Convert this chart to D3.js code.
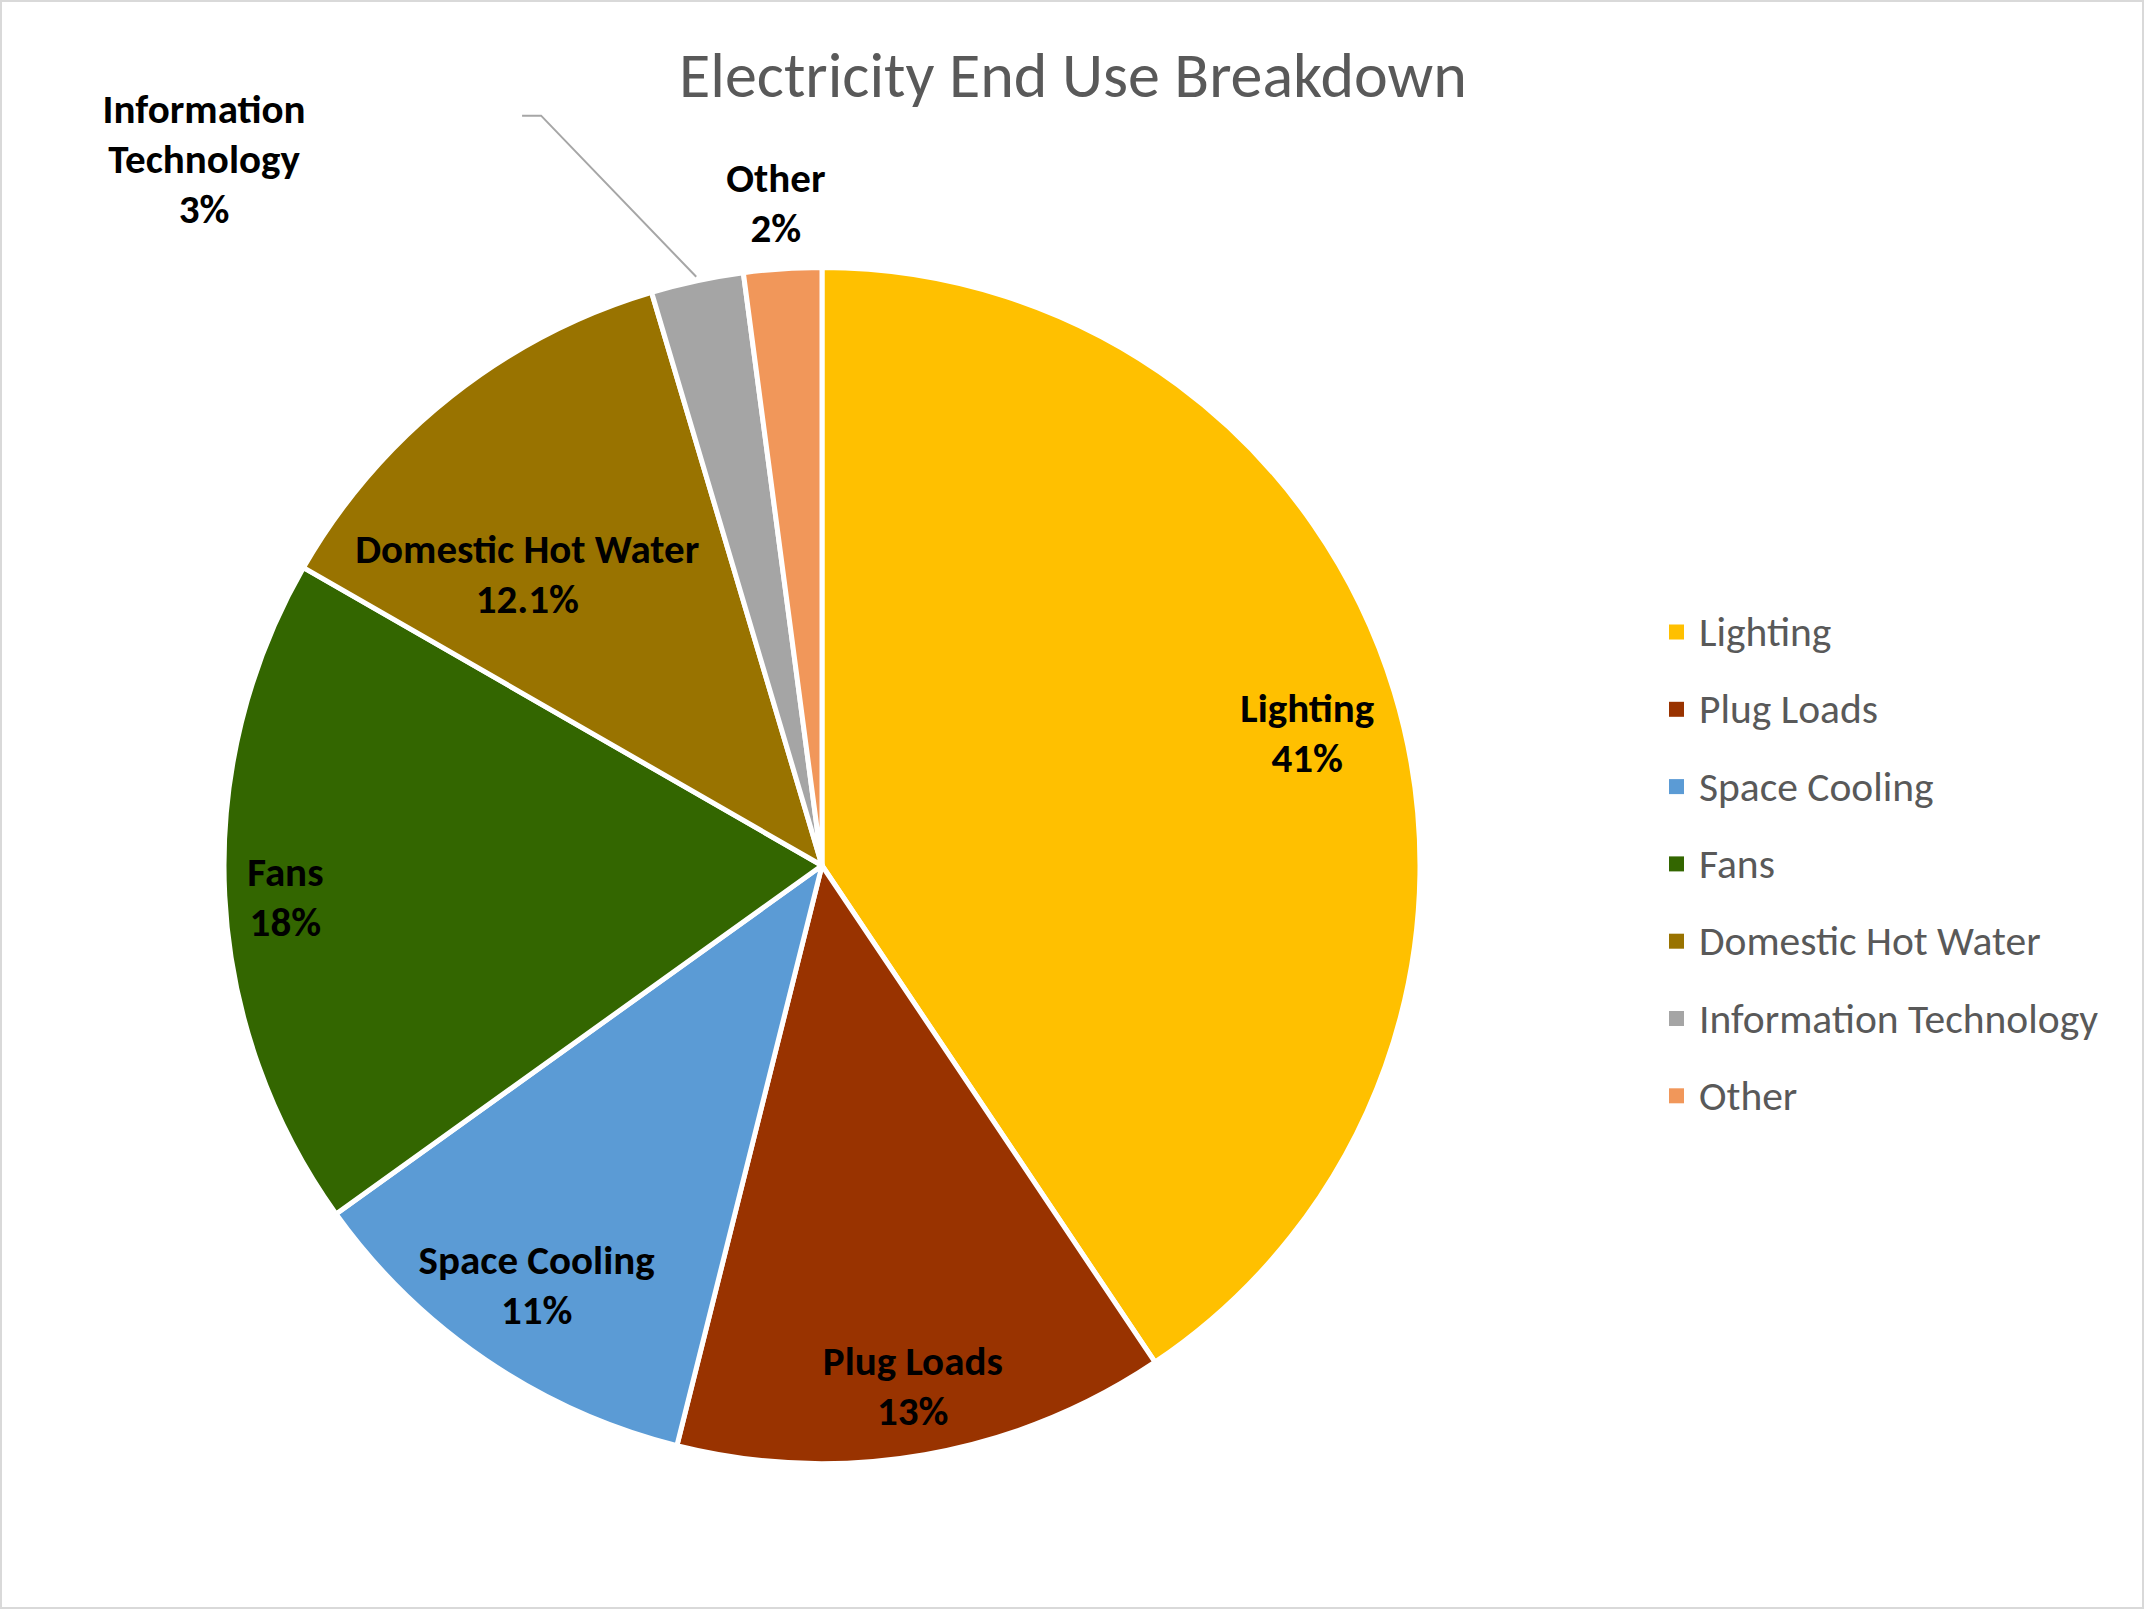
<!DOCTYPE html>
<html>
<head>
<meta charset="utf-8">
<script src="https://cdn.jsdelivr.net/npm/d3@7"></script>
<style>
  html, body { margin: 0; padding: 0; background: #fff; }
  svg { display: block; }
  text { font-family: Carlito, Calibri, Lato, sans-serif; }
</style>
</head>
<body>
<svg id="chart"></svg>
<script>
// data
const categories = ['Lighting', 'Plug Loads', 'Space Cooling', 'Fans', 'Domestic Hot Water', 'Information Technology', 'Other'];
const shares = [40.6, 13.3, 11.2, 18.2, 12.1, 2.5, 2.1];
const pctLabels = ['41%', '13%', '11%', '18%', '12.1%', '3%', '2%'];
const colors = ['#FFC000', '#993300', '#5B9BD5', '#336600', '#997300', '#A5A5A5', '#F1975A'];
const chartTitle = 'Electricity End Use Breakdown';

const width = 2147, height = 1611;
const cx = 822, cy = 865.5, radius = 598;
const lineH = 50, capH = 28;

const svg = d3.select('#chart')
    .attr('width', width)
    .attr('height', height);

// chart frame
svg.append('rect')
    .attr('x', 1).attr('y', 1)
    .attr('width', width - 5).attr('height', height - 4)
    .attr('fill', '#fff')
    .attr('stroke', '#D9D9D9')
    .attr('stroke-width', 2);

svg.append('text')
    .attr('x', 1073)
    .attr('y', 97)
    .attr('text-anchor', 'middle')
    .attr('fill', '#595959')
    .style('font-size', '64px')
    .text(chartTitle);

const data = categories.map((c, i) => ({name: c, value: shares[i], label: pctLabels[i], color: colors[i]}));

const pie = d3.pie().sort(null).value(d => d.value);
const arcs = pie(data);
const arc = d3.arc().innerRadius(0).outerRadius(radius);

const g = svg.append('g').attr('transform', `translate(${cx}, ${cy})`);

g.selectAll('path')
    .data(arcs)
    .enter()
    .append('path')
    .attr('d', arc)
    .attr('fill', d => d.data.color)
    .attr('stroke', '#fff')
    .attr('stroke-width', 5)
    .attr('stroke-linejoin', 'round');

// where each label block sits: radius factor and angle shift (deg) from the slice middle
const placement = {
    'Lighting': {r: 0.841, da: 1.7},
    'Plug Loads': {r: 0.883, da: 0},
    'Space Cooling': {r: 0.849, da: 0},
    'Fans': {r: 0.899, da: -0.5},
    'Domestic Hot Water': {r: 0.693, da: -7},
    'Information Technology': {r: 1.57, da: -29.1},
    'Other': {r: 1.110, da: -0.2}
};

const polar = (angle, r) => [Math.sin(angle) * r, -Math.cos(angle) * r];

arcs.forEach(d => {
    const p = placement[d.data.name];
    const mid = (d.startAngle + d.endAngle) / 2;
    const pos = polar(mid + p.da * Math.PI / 180, p.r * radius);
    const lines = d.data.name === 'Information Technology'
        ? ['Information', 'Technology', d.data.label]
        : [d.data.name, d.data.label];

    const t = g.append('text')
        .attr('text-anchor', 'middle')
        .attr('fill', '#000')
        .style('font-weight', 'bold')
        .style('font-size', '41px');
    lines.forEach((ln, i) => {
        t.append('tspan')
            .attr('x', pos[0])
            .attr('y', pos[1] + (i - (lines.length - 1) / 2) * lineH + capH / 2)
            .text(ln);
    });

    // leader line for the label that was pulled away
    if (p.r > 1.3) {
        const end = polar(mid, radius + 4);
        const sx = pos[0] + 318, sy = pos[1] - 43;
        g.append('path')
            .attr('d', d3.line()([[sx, sy], [sx + 19, sy], end]))
            .attr('fill', 'none')
            .attr('stroke', '#A6A6A6')
            .attr('stroke-width', 2);
    }
});

// legend
const legend = svg.append('g').attr('transform', 'translate(1669, 632)');
const rowH = 77.3;

const item = legend.selectAll('g')
    .data(data)
    .enter()
    .append('g')
    .attr('transform', (d, i) => `translate(0, ${i * rowH})`);

item.append('rect')
    .attr('x', 0).attr('y', -7.5)
    .attr('width', 15).attr('height', 15)
    .attr('fill', d => d.color);

item.append('text')
    .attr('x', 30)
    .attr('y', 14)
    .attr('fill', '#595959')
    .style('font-size', '41.5px')
    .text(d => d.name);
</script>
</body>
</html>
